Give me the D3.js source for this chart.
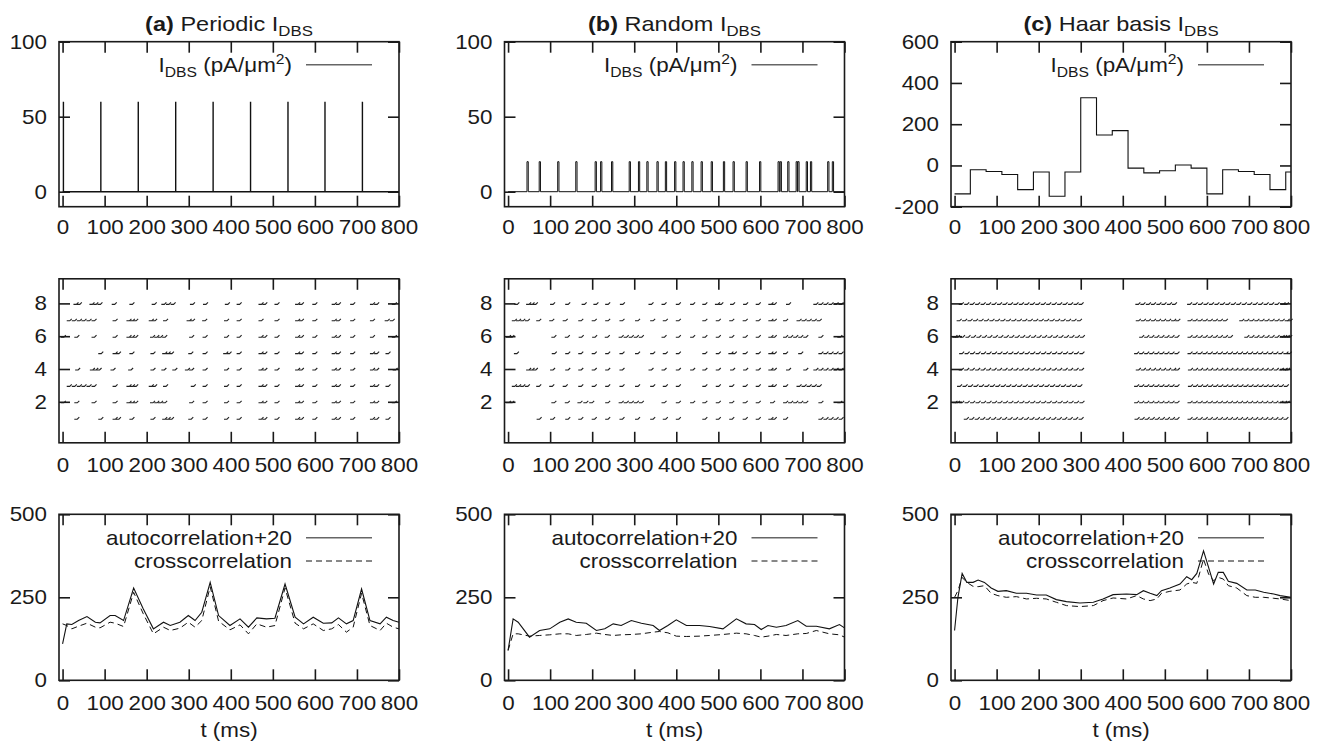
<!DOCTYPE html>
<html lang="en">
<head>
<meta charset="UTF-8">
<title>DBS input patterns</title>
<script src="https://cdn.jsdelivr.net/npm/d3@7"></script>
<style>
  body { margin: 0; background: #fff; }
  svg { display: block; font-family: "Liberation Sans", Arial, sans-serif; }
</style>
</head>
<body>
<div id="chart"></div>
<script>
// ---------- data ----------
var xTickVals = [0, 100, 200, 300, 400, 500, 600, 700, 800];
var titleTags = ["(a)", "(b)", "(c)"];
var titleNames = [" Periodic I", " Random I", " Haar basis I"];

// top row: stimulation current
var periodicPulses = [2, 91, 180, 269, 358, 447, 536, 624, 713];
var periodicAmp = 60;
var randomPulses = [45, 74, 118, 161, 207, 220, 246, 288, 310, 330, 354, 374, 396, 416, 437, 459, 483, 512, 535, 566, 598, 642, 647, 665, 685, 689, 709, 719, 760, 771];
var randomAmp = 20;
var haarStarts = [0, 37.5, 75, 112.5, 150, 187.5, 225, 262.5, 300, 337.5, 375, 412.5, 450, 487.5, 525, 562.5, 600, 637.5, 675, 712.5, 750, 787.5, 800];
var haarValues = [-138, -21, -29, -44, -117, -32, -149, -32, 328, 148, 169, -13, -36, -26, 2, -13, -138, -21, -29, -44, -117, -32, -32];

// middle row: spike times of neurons 1..8
var rasterA = [
  [35, 92, 126, 134, 166, 216, 244, 252, 260, 306, 340, 391, 421, 473, 482, 511, 560, 569, 601, 647, 657, 691, 738, 748, 775],
  [3, 35, 76, 126, 159, 167, 175, 215, 225, 234, 244, 308, 340, 391, 421, 473, 482, 511, 560, 569, 601, 647, 657, 691, 738, 748, 790],
  [17, 29, 41, 52, 64, 76, 126, 159, 167, 175, 212, 220, 246, 312, 340, 391, 421, 473, 482, 511, 560, 569, 601, 647, 657, 691, 738, 748, 775],
  [37, 72, 80, 88, 121, 163, 216, 242, 268, 298, 308, 340, 391, 421, 473, 482, 511, 560, 569, 601, 647, 657, 691, 738, 748, 792],
  [92, 126, 134, 166, 216, 244, 252, 260, 306, 340, 389, 397, 421, 473, 482, 511, 560, 569, 601, 647, 657, 691, 738, 748, 775],
  [3, 35, 76, 126, 159, 167, 175, 215, 225, 234, 244, 308, 340, 391, 421, 473, 482, 511, 560, 569, 601, 647, 657, 691, 738, 790],
  [17, 29, 41, 52, 64, 76, 126, 159, 167, 175, 212, 220, 246, 302, 310, 339, 391, 421, 473, 511, 560, 569, 601, 647, 657, 691, 738, 773, 785],
  [33, 41, 71, 80, 90, 124, 166, 219, 242, 253, 264, 310, 341, 393, 421, 473, 482, 511, 560, 569, 601, 647, 657, 691, 738, 748, 790]
];
var rasterB = [
  [75, 107, 143, 174, 206, 238, 272, 309, 345, 375, 406, 469, 501, 533, 565, 596, 626, 634, 661, 745, 757, 769, 781, 793],
  [2, 10, 110, 142, 172, 186, 200, 238, 270, 282, 294, 306, 318, 372, 406, 440, 469, 501, 533, 565, 596, 630, 661, 673, 685, 697, 709, 745, 790],
  [16, 26, 36, 47, 74, 105, 137, 174, 206, 238, 272, 309, 345, 375, 406, 469, 501, 533, 565, 596, 626, 634, 661, 693, 705, 717, 729, 741],
  [50, 58, 66, 107, 143, 174, 206, 238, 272, 341, 372, 406, 440, 469, 501, 535, 566, 596, 626, 634, 668, 709, 733, 745, 757, 769, 781, 793],
  [21, 111, 143, 174, 206, 238, 272, 309, 345, 375, 406, 469, 501, 531, 539, 565, 596, 626, 634, 661, 697, 745, 757, 769, 781, 793],
  [2, 10, 110, 142, 175, 207, 237, 270, 282, 294, 306, 318, 372, 406, 440, 469, 501, 533, 565, 596, 626, 634, 661, 673, 685, 697, 709, 745, 790],
  [16, 26, 36, 47, 74, 105, 137, 174, 206, 238, 272, 309, 345, 375, 406, 469, 501, 533, 565, 596, 626, 634, 661, 693, 705, 717, 729, 741],
  [22, 50, 58, 66, 107, 143, 182, 210, 238, 273, 341, 372, 406, 440, 469, 499, 507, 535, 566, 596, 626, 634, 668, 733, 745, 757, 769, 781, 793]
];
var rasterC = [
  [29, 42, 55, 68, 81, 94, 107, 120, 133, 146, 159, 172, 185, 198, 211, 224, 237, 250, 263, 276, 289, 302, 435, 447, 459, 471, 483, 495, 507, 519, 530, 561, 573, 585, 597, 609, 621, 633, 645, 657, 669, 681, 693, 705, 717, 729, 741, 753, 765, 777, 789],
  [2, 8, 18, 31, 44, 57, 70, 83, 96, 109, 122, 135, 148, 161, 174, 187, 200, 213, 226, 239, 252, 265, 278, 291, 304, 434, 446, 458, 470, 482, 494, 506, 518, 530, 561, 573, 585, 597, 609, 621, 633, 645, 657, 669, 681, 693, 705, 717, 729, 741, 753, 765, 777, 786, 792],
  [13, 26, 39, 52, 65, 78, 91, 104, 117, 130, 143, 156, 169, 182, 195, 208, 221, 234, 247, 260, 273, 286, 299, 434, 446, 458, 470, 482, 494, 506, 518, 530, 562, 574, 586, 598, 610, 622, 634, 646, 658, 670, 682, 694, 706, 718, 730, 742, 754, 766, 778, 790],
  [17, 30, 43, 56, 69, 82, 95, 108, 121, 134, 147, 160, 173, 186, 199, 212, 225, 238, 251, 264, 277, 290, 303, 438, 450, 462, 474, 486, 498, 510, 522, 531, 562, 574, 586, 598, 610, 622, 634, 646, 658, 670, 682, 694, 706, 718, 730, 742, 754, 766, 778, 787, 793],
  [18, 31, 44, 57, 70, 83, 96, 109, 122, 135, 148, 161, 174, 187, 200, 213, 226, 239, 252, 265, 278, 291, 304, 434, 446, 458, 470, 482, 494, 506, 518, 530, 561, 573, 585, 597, 609, 621, 633, 645, 657, 669, 681, 693, 705, 717, 729, 741, 753, 765, 777, 789, 797],
  [2, 8, 20, 33, 46, 59, 72, 85, 98, 111, 124, 137, 150, 163, 176, 189, 202, 215, 228, 241, 254, 267, 280, 293, 305, 446, 458, 470, 482, 494, 506, 518, 530, 561, 573, 585, 597, 609, 621, 633, 645, 657, 696, 708, 720, 732, 744, 756, 768, 780, 786, 792, 798],
  [12, 25, 38, 51, 64, 77, 90, 103, 116, 129, 142, 155, 168, 181, 194, 207, 220, 233, 246, 259, 272, 285, 298, 438, 450, 462, 474, 486, 498, 510, 522, 532, 561, 573, 585, 597, 609, 621, 633, 645, 684, 696, 708, 720, 732, 744, 756, 768, 780, 792, 799],
  [17, 30, 43, 56, 69, 82, 95, 108, 121, 134, 147, 160, 173, 186, 199, 212, 225, 238, 251, 264, 277, 290, 302, 437, 449, 462, 474, 487, 499, 512, 524, 560, 573, 586, 599, 612, 625, 638, 651, 664, 677, 690, 703, 716, 729, 742, 755, 768, 782, 790]
];

// bottom row: correlations
var corrTA = [0, 10, 22, 38, 58, 78, 89, 113, 125, 145, 169, 192, 216, 240, 256, 279, 299, 315, 331, 351, 371, 398, 422, 442, 462, 485, 505, 529, 553, 573, 596, 620, 640, 656, 675, 691, 711, 731, 755, 770, 786, 800];
var autoA = [110, 170, 168, 180, 192, 175, 173, 195, 195, 180, 278, 215, 155, 175, 165, 175, 195, 180, 205, 295, 195, 165, 185, 160, 188, 185, 187, 290, 190, 170, 190, 172, 173, 188, 170, 180, 275, 180, 170, 190, 180, 175];
var crossA = [170, 165, 155, 163, 172, 160, 158, 175, 172, 162, 265, 200, 140, 160, 150, 157, 175, 160, 180, 282, 178, 152, 167, 140, 170, 160, 165, 278, 172, 155, 170, 150, 155, 168, 145, 160, 262, 165, 150, 172, 160, 155];
var corrTB = [0, 12, 24, 51, 75, 99, 123, 143, 162, 186, 210, 230, 250, 269, 293, 317, 345, 360, 380, 400, 424, 455, 479, 511, 543, 566, 586, 602, 618, 638, 661, 689, 709, 733, 764, 788, 800];
var autoB = [90, 185, 175, 130, 150, 155, 175, 185, 175, 172, 150, 155, 170, 165, 180, 172, 165, 150, 165, 182, 165, 165, 162, 155, 185, 170, 168, 153, 165, 160, 165, 180, 163, 163, 155, 168, 158];
var crossB = [90, 140, 140, 133, 135, 137, 140, 140, 135, 138, 142, 138, 135, 137, 138, 140, 145, 147, 143, 133, 132, 133, 135, 138, 142, 140, 135, 130, 133, 138, 135, 140, 141, 150, 140, 137, 130];
var corrTC = [0, 8, 18, 29, 44, 56, 71, 87, 103, 123, 147, 171, 195, 218, 242, 266, 298, 330, 353, 377, 409, 433, 449, 465, 481, 492, 512, 536, 552, 564, 576, 592, 604, 616, 627, 639, 651, 671, 695, 715, 735, 759, 774, 800];
var autoC = [150, 250, 322, 295, 295, 302, 295, 278, 268, 270, 262, 262, 257, 257, 243, 237, 233, 235, 245, 258, 260, 258, 270, 262, 255, 270, 278, 290, 312, 303, 322, 390, 340, 290, 325, 325, 298, 292, 272, 272, 265, 260, 255, 250];
var crossC = [250, 270, 310, 295, 283, 282, 285, 262, 255, 250, 252, 245, 247, 245, 235, 225, 222, 225, 240, 248, 245, 255, 245, 240, 245, 262, 268, 272, 290, 295, 292, 365, 320, 300, 310, 305, 285, 278, 255, 250, 250, 247, 245, 240];

// ---------- layout ----------
var w = 1325, h = 741;
var colLeft = [59, 504.5, 951];
var frameW = 340;
var rowTop = [41.7, 278.8, 514.3];
var rowH = [165, 164, 166];
var stretch = 1.12;   // the figure's lettering is a bit wider than the font
var ink = "#1a1a1a";

var svg = d3.select("#chart").append("svg")
  .attr("width", w)
  .attr("height", h);

svg.append("rect").attr("width", w).attr("height", h).attr("fill", "#fff");

function label(g, X, Y, anchor) {
  return g.append("text")
    .attr("transform", "translate(" + X + "," + Y + ") scale(" + stretch + ",1)")
    .attr("text-anchor", anchor)
    .attr("font-size", 20)
    .attr("fill", ink);
}

function fixText(sel) {
  sel.selectAll("text")
    .attr("font-size", 20)
    .attr("fill", ink)
    .attr("font-family", "Liberation Sans, Arial, sans-serif")
    .attr("x", function() { return (+d3.select(this).attr("x") || 0) / stretch; })
    .attr("transform", "scale(" + stretch + ",1)");
}

// frame with gnuplot style inward ticks on all four sides
function frame(g, x, y, yTicks, xPad) {
  var x0 = x.range()[0], x1 = x.range()[1];
  var yb = y.range()[0], yt = y.range()[1];
  var fmt = function(d) { return String(d); };

  var ax = g.append("g").attr("transform", "translate(0," + yb + ")")
    .call(d3.axisBottom(x).tickValues(xTickVals).tickFormat(fmt).tickSizeInner(-11).tickSizeOuter(0).tickPadding(xPad));
  fixText(ax);
  g.append("g").attr("transform", "translate(0," + yt + ")")
    .call(d3.axisTop(x).tickValues(xTickVals).tickFormat("").tickSizeInner(-11).tickSizeOuter(0));
  var ay = g.append("g").attr("transform", "translate(" + x0 + ",0)")
    .call(d3.axisLeft(y).tickValues(yTicks).tickFormat(fmt).tickSizeInner(-11).tickSizeOuter(0).tickPadding(12));
  fixText(ay);
  g.append("g").attr("transform", "translate(" + x1 + ",0)")
    .call(d3.axisRight(y).tickValues(yTicks).tickFormat("").tickSizeInner(-11).tickSizeOuter(0));

  g.selectAll(".domain").remove();
  g.selectAll(".tick line").attr("stroke", ink).attr("stroke-width", 1.6);

  g.append("rect")
    .attr("x", x0).attr("y", yt)
    .attr("width", x1 - x0).attr("height", yb - yt)
    .attr("fill", "none")
    .attr("stroke", ink)
    .attr("stroke-width", 1.6);
}

function legendRow(g, x1, yLine, text, dashed) {
  label(g, x1 - 107, yLine + 7, "end").text(text);
  g.append("line")
    .attr("x1", x1 - 93).attr("x2", x1 - 27)
    .attr("y1", yLine).attr("y2", yLine)
    .attr("stroke", dashed ? "#111" : "#666")
    .attr("stroke-width", dashed ? 1 : 1.4)
    .attr("stroke-dasharray", dashed ? "6,4" : null);
}

function pulsePoints(pulses, amp, width) {
  var pts = [[0, 0]];
  pulses.forEach(function(p) {
    pts.push([p, 0], [p, amp], [p + width, amp], [p + width, 0]);
  });
  pts.push([800, 0]);
  return pts;
}

// ---------- top row ----------
var topData = [
  { pts: pulsePoints(periodicPulses, periodicAmp, 0), dom: [-10, 100], ticks: [0, 50, 100], sw: 1.4, step: false },
  { pts: pulsePoints(randomPulses, randomAmp, 3), dom: [-10, 100], ticks: [0, 50, 100], sw: 1, step: false },
  { pts: haarStarts.map(function(t, i) { return [t, haarValues[i]]; }), dom: [-200, 600], ticks: [-200, 0, 200, 400, 600], sw: 1.1, step: true }
];

topData.forEach(function(p, c) {
  var g = svg.append("g");
  var x = d3.scaleLinear().domain([-8.5, 800]).range([colLeft[c], colLeft[c] + frameW]);
  var y = d3.scaleLinear().domain(p.dom).range([rowTop[0] + rowH[0], rowTop[0]]);
  var line = d3.line().x(function(d) { return x(d[0]); }).y(function(d) { return y(d[1]); });
  if (p.step) line.curve(d3.curveStepAfter);

  g.append("path")
    .attr("d", line(p.pts))
    .attr("fill", "none")
    .attr("stroke", "#111")
    .attr("stroke-width", p.sw);

  frame(g, x, y, p.ticks, 13.2);

  // title
  var t = label(g, colLeft[c] + frameW / 2, 31, "middle").attr("font-size", 21);
  t.append("tspan").attr("font-weight", "bold").text(titleTags[c]);
  t.append("tspan").text(titleNames[c]);
  t.append("tspan").attr("font-size", 15).attr("dy", 5).text("DBS");

  // legend
  var x1 = colLeft[c] + frameW;
  var ly = rowTop[0] + 23;
  var lt = label(g, x1 - 107, ly + 7, "end");
  lt.append("tspan").text("I");
  lt.append("tspan").attr("font-size", 14).attr("dy", 5).text("DBS");
  lt.append("tspan").attr("dy", -5).text(" (pA/\u03bcm");
  lt.append("tspan").attr("font-size", 14).attr("dy", -8).text("2");
  lt.append("tspan").attr("dy", 8).text(")");
  g.append("line")
    .attr("x1", x1 - 93).attr("x2", x1 - 27)
    .attr("y1", ly).attr("y2", ly)
    .attr("stroke", "#666").attr("stroke-width", 1.4);
});

// ---------- middle row: rasters ----------
[rasterA, rasterB, rasterC].forEach(function(rows, c) {
  var g = svg.append("g");
  var x = d3.scaleLinear().domain([-8.5, 800]).range([colLeft[c], colLeft[c] + frameW]);
  var y = d3.scaleLinear().domain([-0.5, 9.5]).range([rowTop[1] + rowH[1], rowTop[1]]);

  rows.forEach(function(times, i) {
    g.selectAll(null)
      .data(times)
      .enter()
      .append("path")
      .attr("d", function(t) { return "M" + (x(t) - 3) + "," + (y(i + 1) + 1) + "h3l2,-2"; })
      .attr("fill", "none")
      .attr("stroke", "#222")
      .attr("stroke-width", 1.1);
  });

  frame(g, x, y, [2, 4, 6, 8], 15.2);
});

// ---------- bottom row: correlations ----------
var corrData = [
  { t: corrTA, auto: autoA, cross: crossA },
  { t: corrTB, auto: autoB, cross: crossB },
  { t: corrTC, auto: autoC, cross: crossC }
];

corrData.forEach(function(p, c) {
  var g = svg.append("g");
  var x = d3.scaleLinear().domain([-8.5, 800]).range([colLeft[c], colLeft[c] + frameW]);
  var y = d3.scaleLinear().domain([0, 500]).range([rowTop[2] + rowH[2], rowTop[2]]);

  var corrLine = d3.line().x(function(d, i) { return x(p.t[i]); }).y(function(d) { return y(d); });

  g.append("path")
    .attr("d", corrLine(p.cross))
    .attr("fill", "none")
    .attr("stroke", "#111")
    .attr("stroke-width", 1)
    .attr("stroke-dasharray", "6,4");

  g.append("path")
    .attr("d", corrLine(p.auto))
    .attr("fill", "none")
    .attr("stroke", "#111")
    .attr("stroke-width", 1.1);

  frame(g, x, y, [0, 250, 500], 15.2);

  var x1 = colLeft[c] + frameW;
  legendRow(g, x1, rowTop[2] + 23.4, "autocorrelation+20", false);
  legendRow(g, x1, rowTop[2] + 46.7, "crosscorrelation", true);

  label(g, colLeft[c] + frameW / 2, 737, "middle").text("t (ms)");
});
</script>
</body>
</html>
